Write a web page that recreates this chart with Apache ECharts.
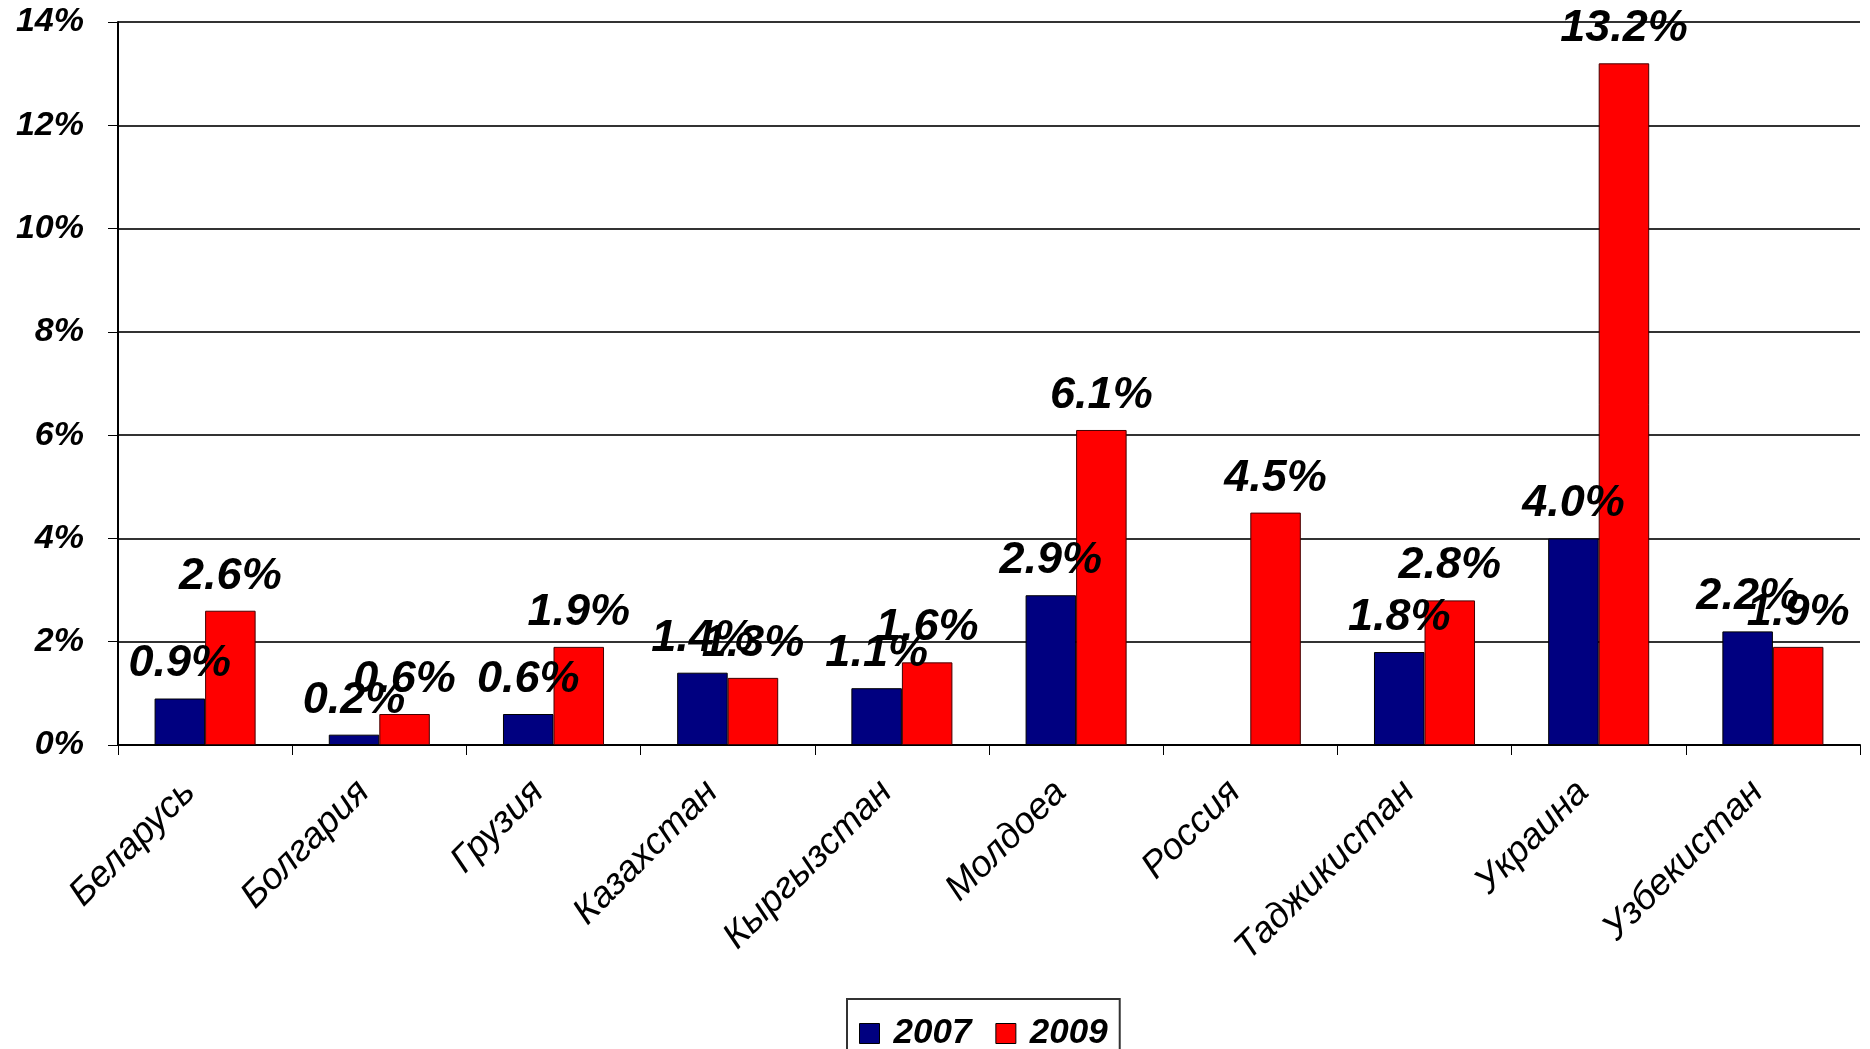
<!DOCTYPE html>
<html>
<head>
<meta charset="utf-8">
<script src="https://cdn.jsdelivr.net/npm/echarts@6/dist/echarts.min.js"></script>
<style>
  html, body { margin: 0; padding: 0; background: #fff; }
  #chart { width: 1870px; height: 1049px; }
</style>
</head>
<body>
<div id="chart"></div>
<script>
const countries = ['Беларусь', 'Болгария', 'Грузия', 'Казахстан', 'Кыргызстан', 'Молдоеа', 'Россия', 'Таджикистан', 'Украина', 'Узбекистан'];
const values2007 = [0.9, 0.2, 0.6, 1.4, 1.1, 2.9, null, 1.8, 4.0, 2.2];
const values2009 = [2.6, 0.6, 1.9, 1.3, 1.6, 6.1, 4.5, 2.8, 13.2, 1.9];
const yTicks = [0, 2, 4, 6, 8, 10, 12, 14];

const font = '"Liberation Sans", Arial, sans-serif';

const valueLabel = {
  show: true,
  position: 'top',
  distance: 12,
  fontFamily: font,
  fontSize: 45,
  fontWeight: 'bold',
  fontStyle: 'italic',
  color: '#000',
  formatter: (p) => p.value.toFixed(1) + '%'
};

const chart = echarts.init(document.getElementById('chart'));
chart.setOption({
  animation: false,
  backgroundColor: '#fff',
  grid: { left: 118, right: 10, top: 22, bottom: 304 },
  legend: {
    top: 999,
    left: 847,
    padding: [17, 12, 18, 12],
    itemWidth: 20,
    itemHeight: 20,
    itemGap: 24,
    borderColor: '#333',
    borderWidth: 2,
    icon: 'rect',
    itemStyle: { borderColor: '#000', borderWidth: 1 },
    textStyle: {
      fontFamily: font, fontSize: 35, fontWeight: 'bold', fontStyle: 'italic',
      color: '#000', padding: [0, 0, 0, 9]
    },
    data: ['2007', '2009']
  },
  xAxis: {
    type: 'category',
    data: countries,
    axisLine: { lineStyle: { color: '#000', width: 2 } },
    axisTick: { show: true, length: 10, lineStyle: { color: '#000', width: 1 } },
    axisLabel: {
      rotate: 45,
      margin: 26,
      interval: 0,
      padding: [0, 22, 0, 0],
      fontFamily: font,
      fontSize: 37,
      fontStyle: 'italic',
      color: '#000'
    }
  },
  yAxis: {
    type: 'value',
    min: 0,
    max: 14,
    interval: 2,
    axisLine: { show: true, lineStyle: { color: '#000', width: 2 } },
    axisTick: { show: true, length: 10, lineStyle: { color: '#000' } },
    splitLine: { lineStyle: { color: '#333', width: 2 } },
    axisLabel: {
      margin: 34,
      fontFamily: font,
      fontSize: 34,
      fontWeight: 'bold',
      fontStyle: 'italic',
      color: '#000',
      formatter: (v) => yTicks.includes(v) ? v + '%' : ''
    }
  },
  series: [
    {
      name: '2007',
      type: 'bar',
      data: values2007,
      barGap: '0%',
      barCategoryGap: '42%',
      itemStyle: { color: '#000080', borderColor: '#000', borderWidth: 1 },
      label: valueLabel
    },
    {
      name: '2009',
      type: 'bar',
      data: values2009,
      barGap: '0%',
      barCategoryGap: '42%',
      itemStyle: { color: '#ff0000', borderColor: '#400', borderWidth: 1 },
      label: valueLabel
    }
  ]
});
</script>
</body>
</html>
